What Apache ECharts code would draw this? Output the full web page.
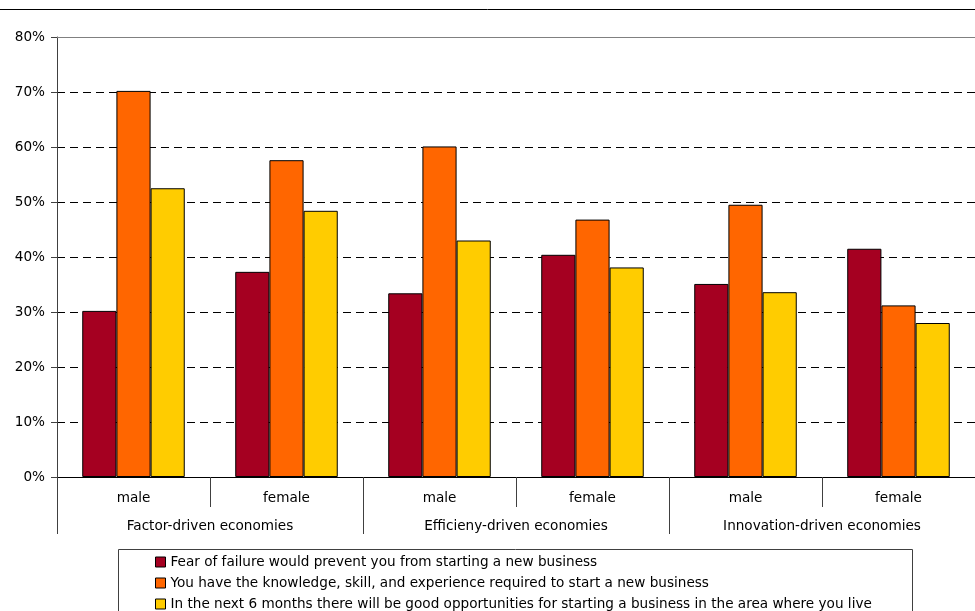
<!DOCTYPE html>
<html>
<head>
<meta charset="utf-8">
<script src="https://cdn.jsdelivr.net/npm/echarts@6/dist/echarts.min.js"></script>
<style>
  html, body { margin: 0; padding: 0; background: #fff; }
  #chart { width: 975px; height: 611px; }
</style>
</head>
<body>
<div id="chart"></div>
<script>
// Sub-categories (gender) and the economy groups they belong to
const genders = ['male', 'female', 'male', 'female', 'male', 'female'];
const economyGroups = ['Factor-driven economies', 'Efficieny-driven economies', 'Innovation-driven economies'];

const seriesNames = [
  'Fear of failure would prevent you from starting a new business',
  'You have the knowledge, skill, and experience required to start a new business',
  'In the next 6 months there will be good opportunities for starting a business in the area where you live'
];

// Shares of respondents (fractions)
const fearOfFailure = [0.302, 0.373, 0.334, 0.404, 0.351, 0.415];
const haveSkills    = [0.702, 0.576, 0.601, 0.468, 0.495, 0.312];
const opportunities = [0.525, 0.484, 0.430, 0.381, 0.336, 0.280];

const yTicks = { min: 0, max: 0.8, interval: 0.1 };

const colors = ['#A50021', '#FF6600', '#FFCC00'];
const FONT = 'DejaVu Sans';
const FS = 13.6;

const chart = echarts.init(document.getElementById('chart'), null, { renderer: 'canvas' });

function barSeries(name, data, idx) {
  const s = {
    name: name,
    type: 'bar',
    xAxisIndex: 0,
    yAxisIndex: 0,
    data: data,
    barGap: '0%',
    barCategoryGap: '33%',
    itemStyle: { color: colors[idx], borderColor: '#000', borderWidth: 1 },
    emphasis: { disabled: true },
    silent: true
  };
  if (idx === 0) {
    // solid top border of the plot area at the axis maximum
    s.markLine = {
      silent: true,
      symbol: 'none',
      label: { show: false },
      lineStyle: { color: '#808080', type: 'solid', width: 1 },
      data: [{ yAxis: yTicks.max }]
    };
  }
  return s;
}

// one legend row per series, stacked inside the framed box
function legendRow(i) {
  return {
    orient: 'vertical',
    left: 155,
    top: 554 + i * 21,
    itemWidth: 10,
    itemHeight: 10,
    itemGap: 0,
    icon: 'rect',
    padding: 0,
    selectedMode: false,
    itemStyle: { borderColor: '#000', borderWidth: 1 },
    textStyle: { color: '#000', fontSize: FS, fontFamily: FONT, lineHeight: 16, padding: 0 },
    data: [seriesNames[i]]
  };
}

const option = {
  animation: false,
  backgroundColor: '#fff',
  textStyle: { fontFamily: FONT },
  grid: { left: 57, right: -1, top: 37, bottom: 134 },
  xAxis: [
    {
      type: 'category',
      data: genders,
      position: 'bottom',
      axisLine: { show: true, lineStyle: { color: '#000', width: 1 } },
      axisTick: { show: true, length: 30, lineStyle: { color: '#404040' } },
      axisLabel: { color: '#000', fontSize: FS, fontFamily: FONT, margin: 14 },
      splitLine: { show: false }
    },
    {
      type: 'category',
      data: economyGroups,
      position: 'bottom',
      axisLine: { show: false },
      axisTick: { show: true, length: 57, lineStyle: { color: '#404040' } },
      axisLabel: { color: '#000', fontSize: FS, fontFamily: FONT, margin: 42 },
      splitLine: { show: false }
    }
  ],
  yAxis: {
    type: 'value',
    min: yTicks.min,
    max: yTicks.max,
    interval: yTicks.interval,
    axisLine: { show: true, lineStyle: { color: '#404040', width: 1 } },
    axisTick: { show: true, length: 6, lineStyle: { color: '#404040' } },
    axisLabel: {
      color: '#000', fontSize: FS, fontFamily: FONT, margin: 12,
      formatter: v => Math.round(v * 100) + '%'
    },
    splitLine: {
      show: true,
      showMaxLine: false,
      lineStyle: { color: '#000', type: [8, 5], width: 1 }
    }
  },
  legend: [legendRow(0), legendRow(1), legendRow(2)],
  graphic: [
    { type: 'line', shape: { x1: 0, y1: 9.5, x2: 975, y2: 9.5 }, style: { stroke: '#000', lineWidth: 1 }, silent: true },
    { type: 'rect', shape: { x: 118.5, y: 549.5, width: 794, height: 80 }, style: { fill: 'none', stroke: '#404040', lineWidth: 1 }, silent: true, z: -1 }
  ],
  series: [
    barSeries(seriesNames[0], fearOfFailure, 0),
    barSeries(seriesNames[1], haveSkills, 1),
    barSeries(seriesNames[2], opportunities, 2)
  ]
};

chart.setOption(option);
</script>
</body>
</html>
